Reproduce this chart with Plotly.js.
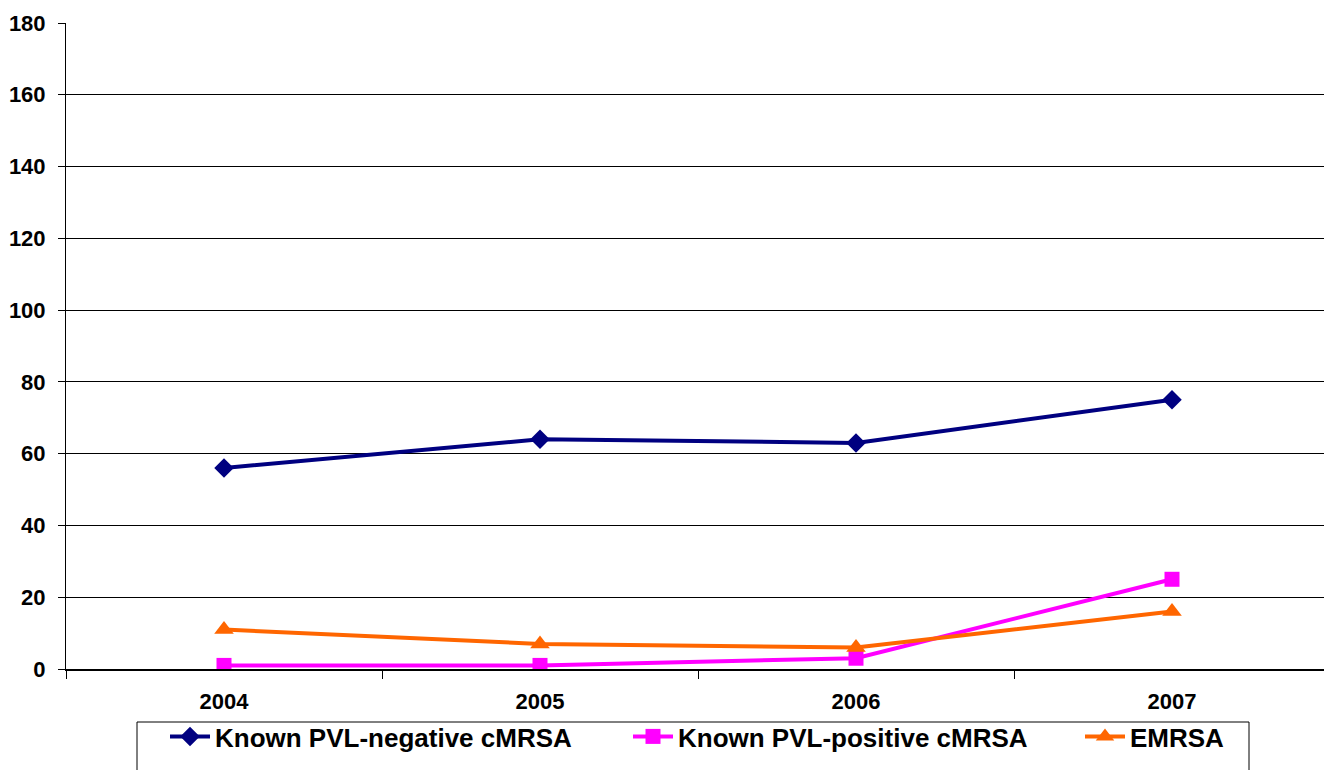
<!DOCTYPE html>
<html>
<head>
<meta charset="utf-8">
<script src="https://cdn.plot.ly/plotly-3.0.1.min.js"></script>
<style>html,body{margin:0;padding:0;background:#fff;}#chart{width:1324px;height:770px;}</style>
</head>
<body>
<div id="chart"></div>
<script>
const years = ["2004", "2005", "2006", "2007"];
const pvlNegative = [56, 64, 63, 75];
const pvlPositive = [1, 1, 3, 25];
const emrsa = [11, 7, 6, 16];
const seriesNames = ["Known PVL-negative cMRSA", "Known PVL-positive cMRSA", "EMRSA"];

const W = 1324, H = 770;
const mL = 66, mR = 0, mT = 23, mB = 101;
const plotW = W - mL - mR, plotH = H - mT - mB;
const catW = 316;
const px2x = p => (p - mL) / plotW;
const px2y = p => (H - mB - p) / plotH;

const traces = [
  {x: years, y: pvlNegative, name: seriesNames[0], type: "scatter", mode: "lines+markers", legend: "legend",
   line: {color: "#000080", width: 4}, marker: {symbol: "diamond", size: 15, color: "#000080"}},
  {x: years, y: pvlPositive, name: seriesNames[1], type: "scatter", mode: "lines+markers", legend: "legend2",
   line: {color: "#FF00FF", width: 4}, marker: {symbol: "square", size: 15, color: "#FF00FF"}},
  {x: years, y: emrsa, name: seriesNames[2], type: "scatter", mode: "lines+markers", legend: "legend3",
   line: {color: "#FF6600", width: 4}, marker: {symbol: "triangle-up", size: 17, color: "#FF6600"}}
];

const tickFont = {family: "Liberation Sans, Arial, sans-serif", size: 22, color: "#000", weight: "bold"};
const legendFont = {family: "Liberation Sans, Arial, sans-serif", size: 26, color: "#000", weight: "bold"};
const mkLegend = px => ({
  orientation: "h", x: px2x(px), xanchor: "left", y: px2y(713), yanchor: "top",
  borderwidth: 0, bgcolor: "rgba(0,0,0,0)", font: legendFont, itemwidth: 40
});

const layout = {
  width: W, height: H,
  margin: {l: mL, r: mR, t: mT, b: mB, pad: 0},
  paper_bgcolor: "#fff", plot_bgcolor: "#fff",
  showlegend: true,
  xaxis: {
    type: "category",
    range: [-0.5, -0.5 + plotW / catW],
    tickson: "boundaries",
    ticks: "outside", ticklen: 8, tickwidth: 1, tickcolor: "#000",
    showgrid: false, showline: true, linecolor: "#000", linewidth: 2,
    tickfont: tickFont, ticklabelstandoff: 12,
    zeroline: false, fixedrange: true
  },
  yaxis: {
    range: [0, 180], dtick: 20,
    ticks: "outside", ticklen: 7, tickwidth: 1, tickcolor: "#000",
    showgrid: true, gridcolor: "#000", gridwidth: 1,
    showline: true, linecolor: "#000", linewidth: 1,
    zeroline: false,
    tickfont: tickFont, ticklabelstandoff: 8, fixedrange: true
  },
  shapes: [{
    type: "rect", xref: "paper", yref: "paper",
    x0: px2x(137), x1: px2x(1249), y0: px2y(722), y1: px2y(800),
    line: {color: "#000", width: 1}, fillcolor: "#fff", layer: "above"
  }],
  legend: mkLegend(165),
  legend2: mkLegend(628),
  legend3: mkLegend(1080)
};

Plotly.newPlot("chart", traces, layout, {displayModeBar: false, staticPlot: true});
</script>
</body>
</html>
